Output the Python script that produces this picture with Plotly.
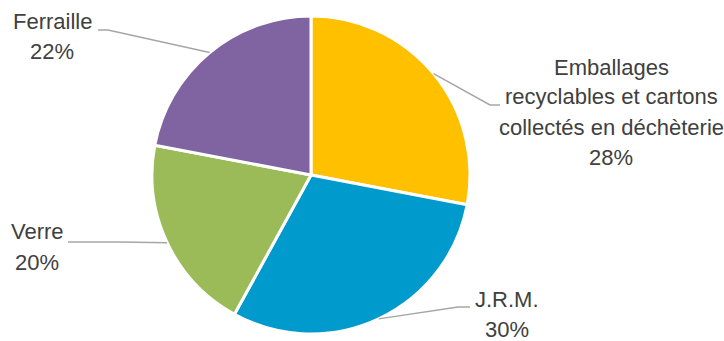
import numpy as np
import plotly.graph_objects as go

# Data
categories = [
    "Emballages<br>recyclables et cartons<br>collectés en déchèterie",
    "J.R.M.",
    "Verre",
    "Ferraille",
]
shares = [28, 30, 20, 22]
colors = ["#FFC000", "#009BCC", "#9BBB59", "#8064A2"]

# Layout (pixels)
W, H = 724, 341
CX, CY, R = 311, 175, 159
LINE_H = 30
# text centre x, first line centre y, elbow point, end of leader
label_pos = [
    (611, 67, (490, 105), (500, 105)),
    (507, 299, (458, 307), (470, 307)),
    (37, 232, (120, 242), (68, 242)),
    (52, 22, (108, 30), (98, 30)),
]


def px(x):
    return x / W


def py(y):
    return 1 - y / H


fig = go.Figure()
fig.add_trace(go.Pie(
    labels=[c.replace("<br>", " ") for c in categories],
    values=shares,
    sort=False,
    direction="clockwise",
    rotation=0,
    marker={"colors": colors, "line": {"color": "white", "width": 3}},
    textinfo="none",
    hoverinfo="label+percent",
    domain={"x": [px(CX - R), px(CX + R)], "y": [py(CY + R), py(CY - R)]},
    showlegend=False,
))

total = sum(shares)
cum = np.cumsum([0] + shares)
annotations = []
shapes = []
for i, (cat, val) in enumerate(zip(categories, shares)):
    theta = np.deg2rad((cum[i] + val / 2) / total * 360)
    ex = CX + R * np.sin(theta)
    ey = CY - R * np.cos(theta)
    tx, ty, (bx, by), (fx, fy) = label_pos[i]
    shapes.append({
        "type": "path",
        "xref": "paper", "yref": "paper",
        "path": f"M {px(ex)},{py(ey)} L {px(bx)},{py(by)} L {px(fx)},{py(fy)}",
        "line": {"color": "#A6A6A6", "width": 1.5},
    })
    lines = cat.split("<br>") + [f"{round(val / total * 100)}%"]
    for j, line in enumerate(lines):
        annotations.append({
            "text": line,
            "x": px(tx), "y": py(ty + j * LINE_H),
            "xref": "paper", "yref": "paper",
            "xanchor": "center", "yanchor": "middle",
            "showarrow": False,
            "font": {"family": "Liberation Sans, Arial", "size": 22, "color": "#404040"},
        })

fig.update_layout(
    width=W,
    height=H,
    margin={"l": 0, "r": 0, "t": 0, "b": 0},
    paper_bgcolor="white",
    plot_bgcolor="white",
    shapes=shapes,
    annotations=annotations,
)

fig.write_html(
    "out.html",
    config={"displayModeBar": False},
    post_script="document.body.style.margin='0';document.body.style.overflow='hidden';",
)
